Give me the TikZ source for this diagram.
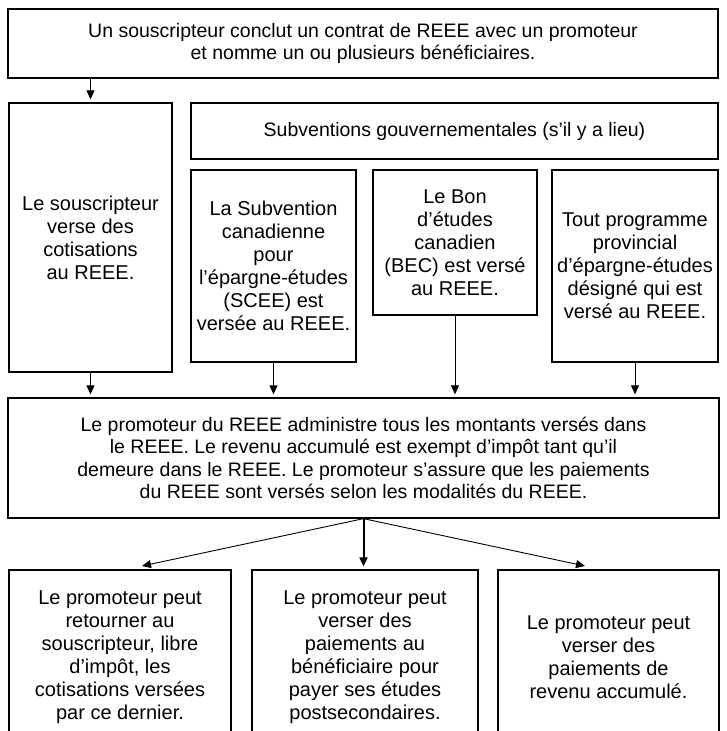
\documentclass[tikz,border=0pt]{standalone}
\usepackage{fontspec}
\setmainfont{Liberation Sans}
\usetikzlibrary{arrows.meta,positioning}

\tikzset{
  box/.style={draw, line width=1.3pt, inner sep=0pt, align=center,
    font=\fontsize{19.5}{22.4}\selectfont},
  colbox/.style={box, font=\fontsize{20}{23}\selectfont},
  link/.style={->, line width=0.9pt, shorten >=3pt},
  mainlink/.style={link, line width=2pt},
}

\begin{document}
\begin{tikzpicture}[x=1pt, y=-1pt, >={Triangle[length=9pt,width=8pt]}]
  \clip (0,0) rectangle (727,731);

  %% contrat
  \node[box, minimum width=710pt, minimum height=69pt] (contrat) at (363,43.5)
    {Un souscripteur conclut un contrat de REEE avec un promoteur\\
     et nomme un ou plusieurs bénéficiaires.};

  %% cotisations et subventions
  \node[colbox, minimum width=163pt, minimum height=269pt] (souscr) at (90.5,237.5)
    {Le souscripteur\\verse des\\cotisations\\au REEE.};
  \node[box, minimum width=527pt, minimum height=56pt] (subv) at (454.5,131)
    {Subventions gouvernementales (s’il y a lieu)};
  \node[colbox, minimum width=165pt, minimum height=192pt] (scee) at (273.5,266)
    {La Subvention\\canadienne\\pour\\l’épargne-études\\(SCEE) est\\versée au REEE.};
  \node[colbox, minimum width=164pt, minimum height=145pt] (bec) at (455,242.5)
    {Le Bon\\d’études\\canadien\\(BEC) est versé\\au REEE.};
  \node[colbox, minimum width=166pt, minimum height=192pt] (prov) at (635,266)
    {Tout programme\\provincial\\d’épargne-études\\désigné qui est\\versé au REEE.};

  %% promoteur
  \node[box, minimum width=711pt, minimum height=120pt] (admin) at (363.5,458)
    {Le promoteur du REEE administre tous les montants versés dans\\
     le REEE. Le revenu accumulé est exempt d’impôt tant qu’il\\
     demeure dans le REEE. Le promoteur s’assure que les paiements\\
     du REEE sont versés selon les modalités du REEE.};

  %% paiements
  \node[colbox, minimum width=222pt, minimum height=174pt] (ret) at (120,657)
    {Le promoteur peut\\retourner au\\souscripteur, libre\\d’impôt, les\\cotisations versées\\par ce dernier.};
  \node[colbox, minimum width=226pt, minimum height=174pt] (paye) at (365,657)
    {Le promoteur peut\\verser des\\paiements au\\bénéficiaire pour\\payer ses études\\postsecondaires.};
  \node[colbox, minimum width=221pt, minimum height=174pt] (revenu) at (608.5,657)
    {Le promoteur peut\\verser des\\paiements de\\revenu accumulé.};

  \coordinate (ret-in) at (142,566);
  \coordinate (revenu-in) at (585,566);

  %% liens
  \draw[link] (contrat.south -| souscr.north) -- (souscr.north);
  \draw[link] (souscr.south) -- (souscr.south |- admin.north);
  \draw[link] (scee.south) -- (scee.south |- admin.north);
  \draw[link] (bec.south) -- (bec.south |- admin.north);
  \draw[link] (prov.south) -- (prov.south |- admin.north);

  \draw[mainlink] (admin.south) -- (admin.south |- paye.north);
  \draw[link, shorten >=0pt] (admin.south) -- (ret-in);
  \draw[link, shorten >=0pt] (admin.south) -- (revenu-in);
\end{tikzpicture}
\end{document}
